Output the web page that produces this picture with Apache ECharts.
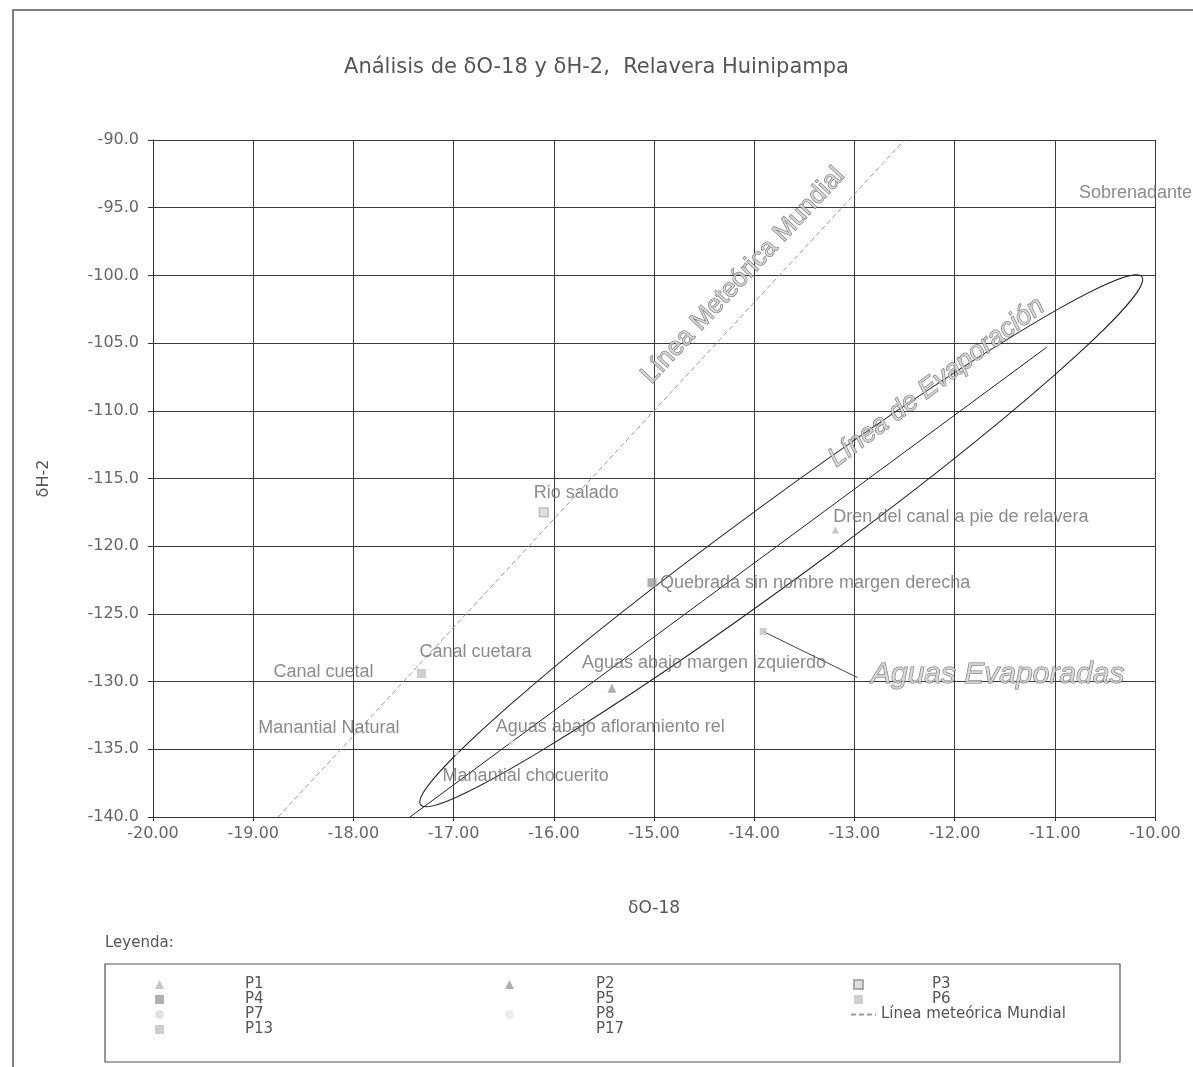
<!DOCTYPE html>
<html><head><meta charset="utf-8">
<script src="https://cdn.jsdelivr.net/npm/echarts@6/dist/echarts.min.js"></script>
<style>html,body{margin:0;padding:0;background:#fff}#c{width:1193px;height:1067px}</style>
</head><body><div id="c"></div>
<script>
// ---------- data ----------
const legendKeys = ['P1','P2','P3','P4','P5','P6','P7','P8','P13','P17'];
const pointKeys  = ['P1','P2','P3','P4','P5','P6','P7','P8','P13','P17','S'];
const pointNames = ['Dren del canal a pie de relavera','Aguas abajo margen izquierdo','Rio salado',
  'Quebrada sin nombre margen derecha','Canal cuetal','','Aguas abajo afloramiento rel',
  'Manantial chocuerito','Canal cuetara','Manantial Natural','Sobrenadante'];
const d18O = [-13.19,-15.42,-16.10,-15.02,-17.44,-13.91,-16.42,-16.97,-17.32,-18.20,-10.40];
const d2H  = [-118.8,-130.5,-117.5,-122.7,-130.1,-126.3,-134.5,-135.3,-129.4,-135.6,-95.2];
const meteoricName = 'Línea meteórica Mundial';
const meteoricX = [-18.75,-12.5];
const meteoricY = [-140,-90];
const evapX = [-17.49,-11.08];
const evapY = [-140.3,-105.3];
const ellipseX = [-17.33,-10.13];
const ellipseY = [-139.1,-100.1];
const calloutX = [-13.91,-12.97];
const calloutY = [-126.3,-129.7];
const noteTexts = ['Línea Meteórica Mundial','Línea de Evaporación','Aguas Evaporadas'];
const noteX = [-14.11,-12.18,-11.57];
const noteY = [-100.0,-107.9,-129.5];
const xMin = -20, xMax = -10, xStep = 1;
const yMin = -140, yMax = -90, yStep = 5;
const titleText = 'Análisis de δO-18 y δH-2,  Relavera Huinipampa';

// ---------- styles / positions ----------
const markerStyle = {
  P1:{symbol:'triangle',size:7,color:'#b8b8b8'},
  P2:{symbol:'triangle',size:9,color:'#9a9a9a'},
  P3:{symbol:'rect',size:9,color:'#d6d6d6',border:'#9a9a9a'},
  P4:{symbol:'rect',size:9,color:'#9c9c9c'},
  P5:{symbol:'circle',size:6,color:'rgba(0,0,0,0)'},
  P6:{symbol:'rect',size:7,color:'#c4c4c4'},
  P7:{symbol:'circle',size:5,color:'#dcdcdc'},
  P8:{symbol:'circle',size:5,color:'#e6e6e6'},
  P13:{symbol:'rect',size:9,color:'#c2c2c2'},
  P17:{symbol:'circle',size:6,color:'rgba(0,0,0,0)'},
  S:{symbol:'circle',size:6,color:'rgba(0,0,0,0)'}
};
const labelOffset = {P1:[-2,-13],P2:[-30,-25],P3:[-10,-19],P4:[8,0],P5:[-136,-11],P6:[0,0],
  P7:[-16,-15],P8:[-14,23],P13:[-2,-21],P17:[-75,-29],S:[-36,-17]};
const noteRotate = [47,37,0];
const noteSize = [26,27,30];
const noteItalic = [false,true,true];
const ellipseRatio = 0.088;
const legendCols = [['P1','P4','P7','P13'],['P2','P5','P8','P17'],['P3','P6']];
const legendLeft = [150,500,848];
const legendPad = [76,77,64];
const labelFont = 'Liberation Sans';
const axisFont = 'DejaVu Sans';

const chart = echarts.init(document.getElementById('c'), null, {renderer:'canvas'});

const series = [];
pointKeys.forEach((k,i)=>{
  const st = markerStyle[k];
  series.push({
    name:k, type:'scatter', silent:true, z:5,
    symbol:st.symbol, symbolSize:st.size,
    itemStyle:{color:st.color, borderColor:st.border||st.color, borderWidth:st.border?1:0},
    data:[{name:pointNames[i], value:[d18O[i], d2H[i]]}],
    label:{show:true, position:'inside', align:'left', verticalAlign:'middle',
      offset:labelOffset[k], formatter:'{b}', color:'#6e6e6e', fontSize:18, fontFamily:labelFont}
  });
});
series.push({
  name:meteoricName, type:'line', silent:true, showSymbol:false, symbol:'none', z:2,
  data:meteoricX.map((x,i)=>[x, meteoricY[i]]),
  lineStyle:{color:'#9a9a9a', width:1, type:[5,3]}, itemStyle:{color:'#9a9a9a'}
});
series.push({
  name:'evap', type:'line', silent:true, showSymbol:false, symbol:'none', z:3,
  data:evapX.map((x,i)=>[x, evapY[i]]),
  lineStyle:{color:'#222', width:1}
});
series.push({
  name:'callout', type:'line', silent:true, showSymbol:false, symbol:'none', z:3,
  data:calloutX.map((x,i)=>[x, calloutY[i]]),
  lineStyle:{color:'#444', width:1}
});
series.push({
  name:'ellipse', type:'custom', silent:true, z:3,
  data:[[ellipseX[0], ellipseY[0], ellipseX[1], ellipseY[1]]],
  encode:{x:[0,2], y:[1,3]},
  renderItem:(params, api)=>{
    const p1 = api.coord([api.value(0), api.value(1)]);
    const p2 = api.coord([api.value(2), api.value(3)]);
    const dx = p2[0]-p1[0], dy = p2[1]-p1[1];
    const a = Math.sqrt(dx*dx+dy*dy)/2;
    return {type:'ellipse', x:(p1[0]+p2[0])/2, y:(p1[1]+p2[1])/2, rotation:Math.atan2(-dy, dx),
      shape:{cx:0, cy:0, rx:a, ry:a*ellipseRatio},
      style:{fill:'none', stroke:'#222', lineWidth:1}};
  }
});
series.push({
  name:'notes', type:'scatter', silent:true, z:6, symbolSize:1,
  itemStyle:{color:'rgba(0,0,0,0)'},
  data:noteTexts.map((t,i)=>({name:t, value:[noteX[i], noteY[i]],
    label:{rotate:noteRotate[i], fontSize:noteSize[i], fontStyle:noteItalic[i]?'italic':'normal'}})),
  label:{show:true, position:'inside', formatter:'{b}', color:'#d2d2d2', textBorderColor:'#505050',
    textBorderWidth:1, fontFamily:labelFont, align:'center', verticalAlign:'middle'}
});

const legendText = {color:'#555', fontSize:15, fontFamily:axisFont, lineHeight:15};
const legends = legendCols.map((col,ci)=>({
  data:col, orient:'vertical', left:legendLeft[ci], top:972, itemGap:0,
  itemWidth:9, itemHeight:9, selectedMode:false,
  formatter:n=>'{p|'+n+'}',
  textStyle:Object.assign({}, legendText, {rich:{p:Object.assign({padding:[0,0,0,legendPad[ci]]}, legendText)}})
}));
legends.push({
  data:[meteoricName], orient:'vertical', left:845, top:1002, itemGap:0,
  itemWidth:25, itemHeight:9, selectedMode:false,
  itemStyle:{opacity:0},
  textStyle:legendText
});

const option = {
  backgroundColor:'#fff',
  animation:false,
  title:{text:titleText, left:'center', top:52,
    textStyle:{color:'#555', fontSize:21, fontWeight:'normal', fontFamily:axisFont}},
  grid:{left:153, top:140, right:38, bottom:250, containLabel:false, outerBoundsMode:'none'},
  xAxis:{type:'value', min:xMin, max:xMax, interval:xStep,
    name:'δO-18', nameLocation:'middle', nameGap:83,
    nameTextStyle:{color:'#555', fontSize:17, fontFamily:axisFont},
    axisLine:{show:true, onZero:false, lineStyle:{color:'#333'}},
    axisTick:{show:true, length:4, lineStyle:{color:'#333'}},
    axisLabel:{formatter:v=>v.toFixed(2), color:'#666', fontSize:16, fontFamily:axisFont, margin:9},
    splitLine:{show:true, lineStyle:{color:'#3a3a3a', width:1}}},
  yAxis:{type:'value', min:yMin, max:yMax, interval:yStep,
    name:'δH-2', nameLocation:'middle', nameGap:101,
    nameTextStyle:{color:'#555', fontSize:16, fontFamily:axisFont},
    axisLine:{show:true, onZero:false, lineStyle:{color:'#333'}},
    axisTick:{show:true, length:5, lineStyle:{color:'#333'}},
    axisLabel:{formatter:v=>v.toFixed(1), color:'#666', fontSize:16, fontFamily:axisFont, margin:14},
    splitLine:{show:true, lineStyle:{color:'#3a3a3a', width:1}}},
  legend:legends,
  graphic:[
    {type:'rect', x:13, y:10, shape:{x:0, y:0, width:1400, height:1400},
      style:{fill:'none', stroke:'#555', lineWidth:1.5}, silent:true},
    {type:'text', x:105, y:943, style:{text:'Leyenda:', fill:'#555', fontSize:15,
      fontFamily:axisFont, verticalAlign:'middle'}, silent:true},
    {type:'rect', x:105, y:964, shape:{x:0, y:0, width:1015, height:98},
      style:{fill:'none', stroke:'#555', lineWidth:1.2}, silent:true}
  ],
  series:series
};
chart.setOption(option);
</script>
</body></html>
